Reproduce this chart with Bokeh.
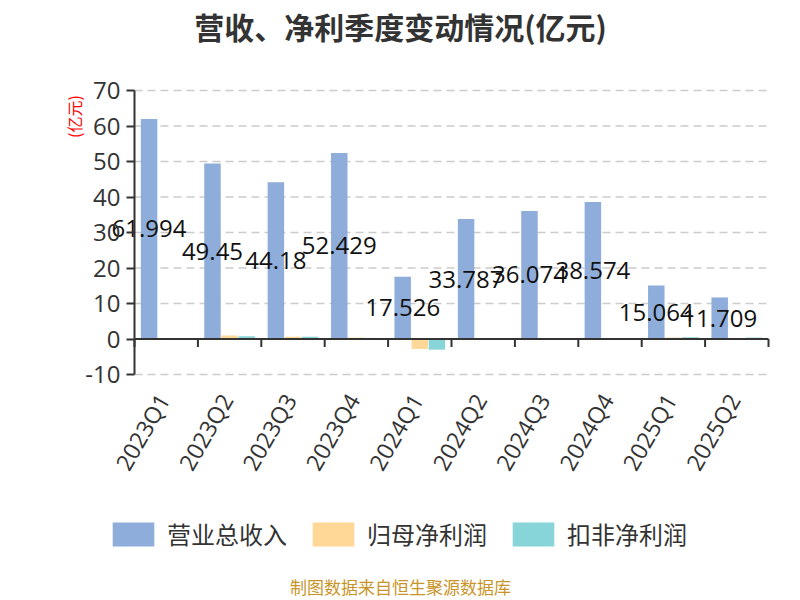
import math
from bokeh.plotting import figure
from bokeh.models import (ColumnDataSource, FixedTicker, LinearAxis, Range1d,
                          Legend, LegendItem, Label)
from bokeh.transform import dodge
from bokeh.core.properties import value
from bokeh.embed import file_html
from bokeh.resources import INLINE

quarters = ["2023Q1", "2023Q2", "2023Q3", "2023Q4", "2024Q1",
            "2024Q2", "2024Q3", "2024Q4", "2025Q1", "2025Q2"]
revenue = [61.994, 49.45, 44.18, 52.429, 17.526, 33.787, 36.074, 38.574, 15.064, 11.709]
net_profit = [0.05, 1.0, 0.65, 0.4, -2.8, 0.05, 0.2, 0.15, 0.4, 0.3]
deducted_profit = [0.05, 0.8, 0.65, 0.3, -3.0, 0.05, 0.2, 0.2, 0.5, 0.4]
y_ticks = [-10, 0, 10, 20, 30, 40, 50, 60, 70]
series_names = ["营业总收入", "归母净利润", "扣非净利润"]
colors = ["#8eaddb", "#ffd898", "#87d4d9"]

n = len(quarters)
x_pos = [i + 0.5 for i in range(n)]
bounds = list(range(n + 1))

# ---- layout (pixels) ----
W, H = 792, 598
FRAME_LEFT = 60                 # frame starts here; everything else drawn inside it
AX_X0, AX_X1 = 134, 768         # pixel x of category area start / end
AX_YT, AX_YB = 90, 374          # pixel y of top tick / bottom tick
px_x = (AX_X1 - AX_X0) / n
px_y = (AX_YB - AX_YT) / (y_ticks[-1] - y_ticks[0])
x_start = -(AX_X0 - FRAME_LEFT) / px_x
x_end = n + (W - AX_X1) / px_x
y_end = y_ticks[-1] + AX_YT / px_y
y_start = y_ticks[0] - (H - AX_YB) / px_y
TICK = 8 / px_y

source = ColumnDataSource(dict(
    x=x_pos, q=quarters, rev=revenue, net=net_profit, ded=deducted_profit,
    half=[v / 2 for v in revenue], lab=[str(v) for v in revenue],
    ylab=[y_ticks[0]] * n,
))
grid_src = ColumnDataSource(dict(y=y_ticks, x0=[0] * len(y_ticks), x1=[n] * len(y_ticks)))
tick_src = ColumnDataSource(dict(x=bounds, y0=[0] * len(bounds), y1=[-TICK] * len(bounds)))

NUM = "Open Sans"
CJK = "Noto Sans CJK SC"

p = figure(width=W, height=H, output_backend="svg", toolbar_location=None, title=None,
           x_range=Range1d(x_start, x_end), y_range=Range1d(y_start, y_end),
           min_border_left=FRAME_LEFT, min_border_right=0, min_border_top=0,
           min_border_bottom=0, x_axis_type=None, y_axis_type=None)
p.outline_line_color = None
p.background_fill_color = "white"
p.border_fill_color = "white"
p.xgrid.grid_line_color = None
p.ygrid.grid_line_color = None

# dashed gridlines at the y ticks, spanning the category area
p.segment(x0="x0", x1="x1", y0="y", y1="y", source=grid_src,
          line_color="#cccccc", line_width=1.5, line_dash="8 5")

# y axis placed at x = 0
yax = LinearAxis(ticker=FixedTicker(ticks=y_ticks), fixed_location=0,
                 bounds=(y_ticks[0], y_ticks[-1]),
                 major_label_overrides={-10: "-10"})
yax.axis_line_color = "#333333"
yax.axis_line_width = 2
yax.major_tick_line_color = "#333333"
yax.major_tick_line_width = 2
yax.major_tick_in = 0
yax.major_tick_out = 8
yax.minor_tick_line_color = None
yax.major_label_text_font = NUM
yax.major_label_text_font_size = "24px"
yax.major_label_text_color = "#333333"
yax.major_label_standoff = 6
p.add_layout(yax, "left")

w = 0.26
r1 = p.vbar(x=dodge("x", -0.27, range=p.x_range), top="rev", width=w, source=source,
            fill_color=colors[0], line_color=None)
r2 = p.vbar(x=dodge("x", 0.0, range=p.x_range), top="net", width=w, source=source,
            fill_color=colors[1], line_color=None)
r3 = p.vbar(x=dodge("x", 0.27, range=p.x_range), top="ded", width=w, source=source,
            fill_color=colors[2], line_color=None)

# zero line with ticks at category boundaries
p.segment(x0=0, x1=n, y0=0, y1=0, line_color="#333333", line_width=2)
p.segment(x0="x", x1="x", y0="y0", y1="y1", source=tick_src,
          line_color="#333333", line_width=2)

# category labels (rotated) below the bottom gridline
p.text(x="x", y="ylab", text="q", source=source, angle=math.pi / 3,
       x_offset=-3, y_offset=21, text_align="right", text_baseline="middle",
       text_font=value(NUM), text_font_size="23px", text_color="#333333")

# value labels on revenue bars
p.text(x=dodge("x", -0.27, range=p.x_range), y="half", text="lab", source=source,
       text_align="center", text_baseline="middle", text_font=value(NUM),
       text_font_size="24px", text_color="#111111")

# title, unit, footer (screen units measured from the frame's bottom-left)
p.add_layout(Label(x=340, y=H - 25, x_units="screen", y_units="screen",
                   text="营收、净利季度变动情况(亿元)", text_font=CJK,
                   text_font_size="30px", text_font_style="bold",
                   text_color="#333333", text_align="center", text_baseline="middle"))
p.add_layout(Label(x=13, y=H - 116, x_units="screen", y_units="screen",
                   text="(亿元)", text_font=CJK, angle=math.pi / 2,
                   text_font_size="16px", text_color="#ff0000",
                   text_align="center", text_baseline="middle"))
p.add_layout(Label(x=340, y=H - 586, x_units="screen", y_units="screen",
                   text="制图数据来自恒生聚源数据库", text_font=CJK,
                   text_font_size="17px", text_color="#c9952a",
                   text_align="center", text_baseline="middle"))

legend = Legend(items=[LegendItem(label=series_names[0], renderers=[r1]),
                       LegendItem(label=series_names[1], renderers=[r2]),
                       LegendItem(label=series_names[2], renderers=[r3])],
                orientation="horizontal", location=(47, H - 551))
legend.glyph_width = 52
legend.glyph_height = 30
legend.label_standoff = 8
legend.spacing = 20
legend.padding = 0
legend.margin = 0
legend.border_line_color = None
legend.background_fill_alpha = 0
legend.label_text_font = CJK
legend.label_text_font_size = "24px"
legend.label_text_color = "#333333"
p.add_layout(legend, "center")

open("out.html", "w").write(file_html(p, INLINE))
